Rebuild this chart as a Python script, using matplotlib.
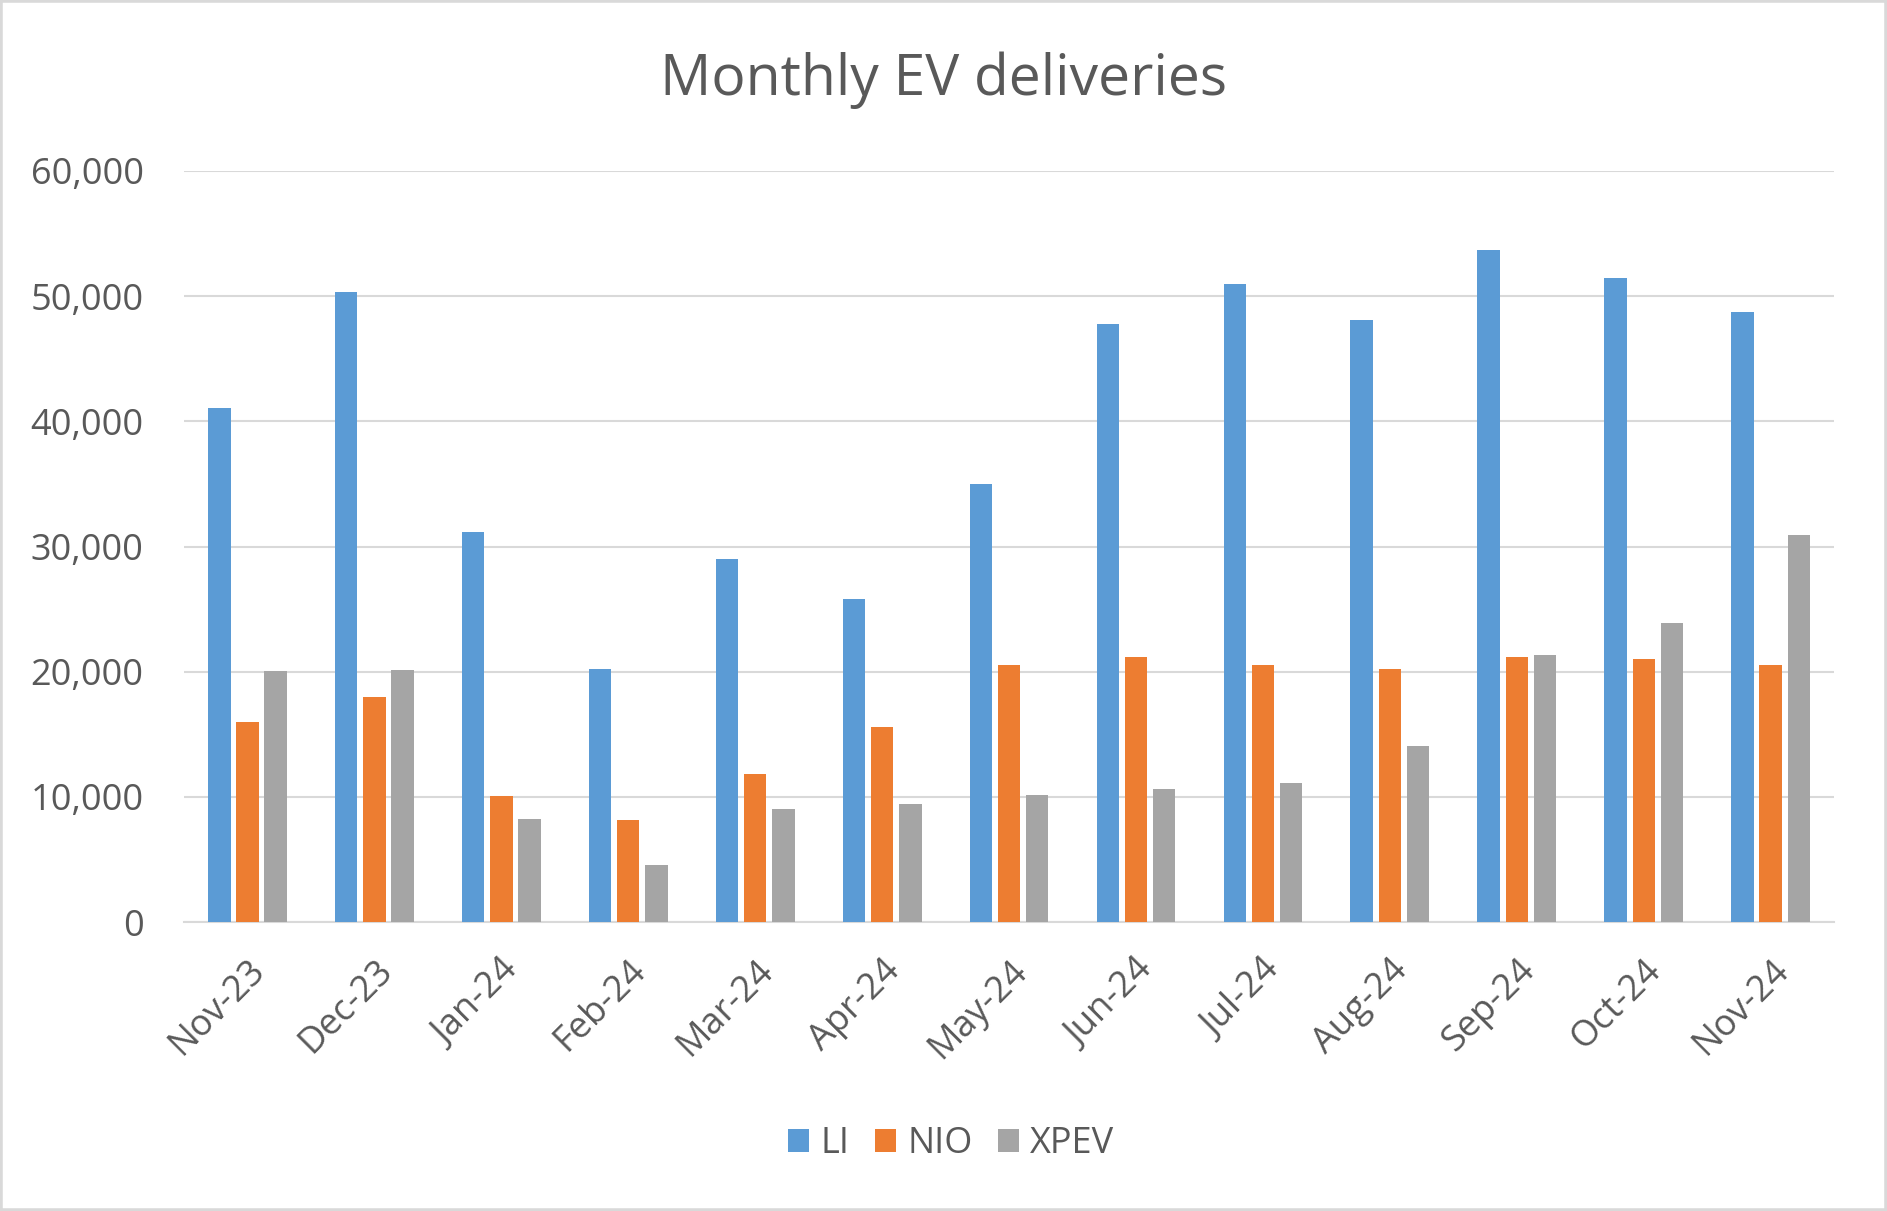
import matplotlib
matplotlib.use("Agg")
from matplotlib import pyplot as plt
from matplotlib.patches import Rectangle
from matplotlib.ticker import FuncFormatter
import numpy as np

months = ["Nov-23", "Dec-23", "Jan-24", "Feb-24", "Mar-24", "Apr-24", "May-24",
          "Jun-24", "Jul-24", "Aug-24", "Sep-24", "Oct-24", "Nov-24"]

li = [41030, 50353, 31165, 20251, 28984, 25787, 35020,
      47774, 51000, 48122, 53709, 51443, 48740]
nio = [15959, 18012, 10055, 8132, 11866, 15620, 20544,
       21209, 20498, 20176, 21181, 20976, 20575]
xpev = [20041, 20115, 8250, 4545, 9026, 9393, 10146,
        10668, 11145, 14036, 21352, 23917, 30895]

series_names = ["LI", "NIO", "XPEV"]
colors = ["#5B9BD5", "#ED7D31", "#A5A5A5"]
text_color = "#595959"
grid_color = "#D9D9D9"

plt.rcParams["font.family"] = ["Open Sans", "DejaVu Sans"]

fig = plt.figure(figsize=(18.87, 12.11), dpi=100)
ax = fig.add_axes([0.0975, 0.2386, 0.972 - 0.0975, 0.8588 - 0.2386])

x = np.arange(len(months))
step = 0.222
width = 0.177
for i, (vals, name, c) in enumerate(zip([li, nio, xpev], series_names, colors)):
    ax.bar(x + (i - 1) * step, vals, width, color=c, label=name, zorder=3)

ax.set_xlim(-0.5, len(months) - 0.5)
ax.set_ylim(0, 60000)
ax.set_yticks(range(0, 60001, 10000))
ax.yaxis.set_major_formatter(FuncFormatter(lambda v, p: f"{int(v):,}"))
ax.grid(axis="y", color=grid_color, linewidth=1.5, zorder=0)
for s in ["top", "right", "left"]:
    ax.spines[s].set_visible(False)
ax.spines["bottom"].set_color(grid_color)
ax.spines["bottom"].set_linewidth(1.5)

ax.set_xticks(x)
ax.set_xticklabels(months, rotation=45, ha="right", va="top",
                   rotation_mode="anchor", fontsize=26, color=text_color)
ax.tick_params(axis="x", length=0, pad=22)
ax.tick_params(axis="y", length=0, pad=29, labelsize=26, labelcolor=text_color)

fig.suptitle("Monthly EV deliveries", x=0.5, y=0.934, fontsize=41,
             color=text_color, va="center")

fig.legend(loc="center", bbox_to_anchor=(0.504, 0.055), ncol=3, frameon=False,
           fontsize=26, labelcolor=text_color, handlelength=0.6,
           handleheight=0.6, handletextpad=0.3, columnspacing=0.7)

fig.patches.append(Rectangle((0, 0), 1, 1, transform=fig.transFigure,
                             fill=False, edgecolor=grid_color, linewidth=4))

fig.savefig("out.png", dpi=100)
